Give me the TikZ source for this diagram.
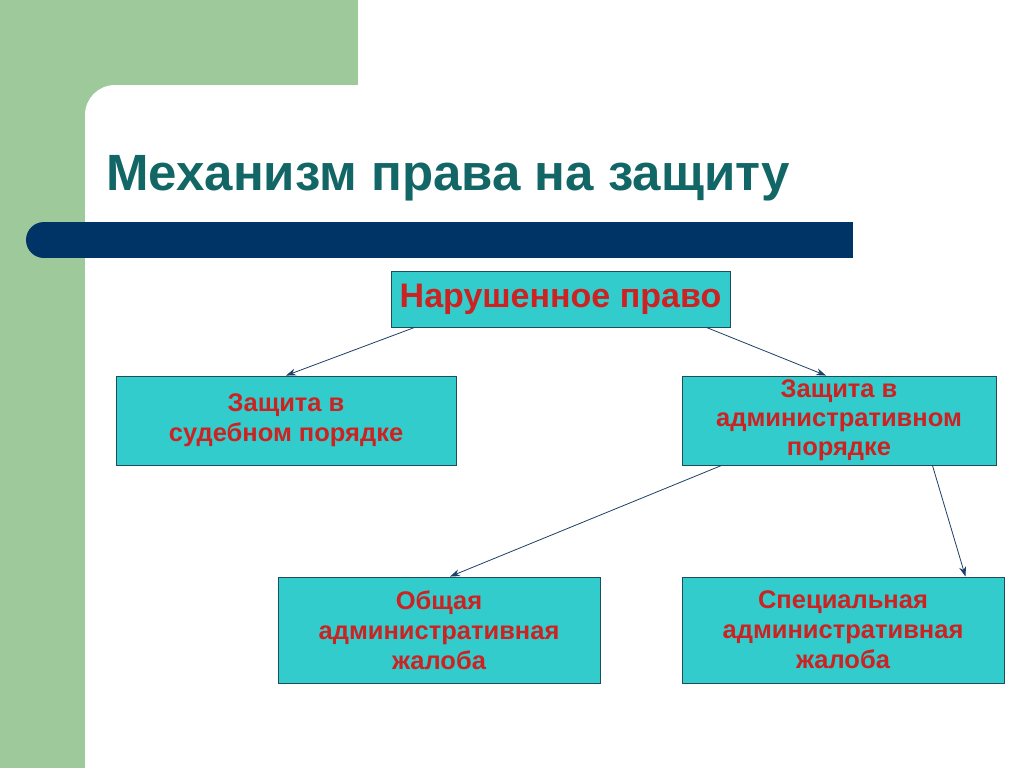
\documentclass[tikz,border=0pt]{standalone}
\usepackage{fontspec}
\setmainfont{Liberation Sans}
\usetikzlibrary{arrows.meta}
\definecolor{bggreen}{HTML}{9DC99B}
\definecolor{barblue}{HTML}{003366}
\definecolor{boxteal}{HTML}{33CCCC}
\definecolor{boxline}{HTML}{1E4E5E}
\definecolor{txtred}{HTML}{CC2222}
\definecolor{titleteal}{HTML}{136666}
\definecolor{arrowc}{HTML}{1F3F66}
\tikzset{
  box/.style={draw=boxline, line width=0.9pt, fill=boxteal, align=center, inner sep=0pt,
    text=txtred, font=\bfseries\fontsize{25.5}{30}\selectfont},
  conn/.style={draw=arrowc, line width=0.8pt, -{Stealth[length=10pt,width=7pt]}}
}
\begin{document}
\begin{tikzpicture}[x=1pt,y=-1pt]
\useasboundingbox (0,0) rectangle (1024,768);
\begin{scope}
\clip (0,0) rectangle (1024,768);
\fill[white] (0,0) rectangle (1024,768);
\fill[bggreen] (0,0) rectangle (358,140);
\fill[bggreen] (0,0) rectangle (85,768);
\fill[white, rounded corners=30pt] (85,85) rectangle (1150,900);
\end{scope}
% title
\node[anchor=base west, text=titleteal, font=\bfseries\fontsize{51}{60}\selectfont, inner sep=0pt] (title) at (106,190) {Механизм права на защиту};
% bar
\fill[barblue] (44,222) rectangle (853,258);
\fill[barblue] (44,240) circle[radius=18pt];
% boxes
\node[box, minimum width=339pt, minimum height=56pt, font=\bfseries\fontsize{34}{36}\selectfont] (top) at (560.5,299) {Нарушенное право};
\node[box, minimum width=340pt, minimum height=89pt] (court) at (286,420.5) {Защита в\\судебном порядке};
\node[box, minimum width=314pt, minimum height=89pt, font=\bfseries\fontsize{25.5}{29}\selectfont] (admin) at (839,420.5) {Защита в\\административном\\порядке};
\node[box, minimum width=322pt, minimum height=106pt] (general) at (439,630) {Общая\\административная\\жалоба};
\node[box, minimum width=322pt, minimum height=106pt] (special) at (843,630) {Специальная\\административная\\жалоба};
% connectors
\draw[conn] ([xshift=24pt]top.south west) -- (court.north);
\draw[conn] ([xshift=-24pt]top.south east) -- ([xshift=-13pt]admin.north);
\draw[conn] ([xshift=40pt]admin.south west) -- ([xshift=11pt]general.north);
\draw[conn] ([xshift=-64pt]admin.south east) -- ([xshift=-39pt]special.north east);
\end{tikzpicture}
\end{document}
